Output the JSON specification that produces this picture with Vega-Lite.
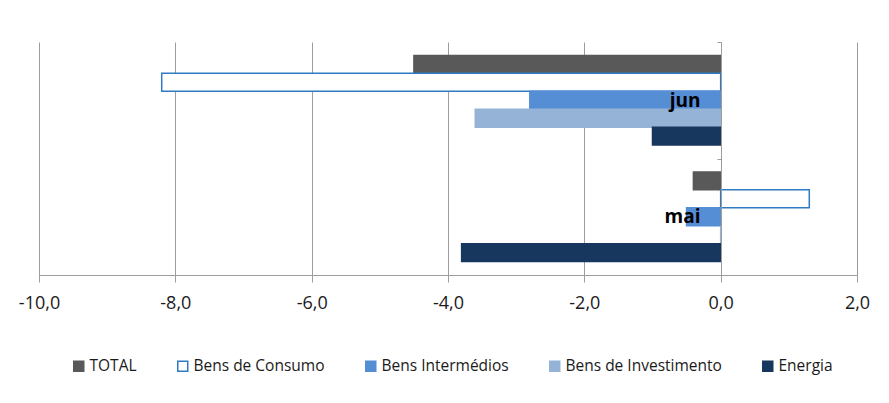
{
  "$schema": "https://vega.github.io/schema/vega-lite/v6.json",
  "width": 818,
  "height": 233,
  "autosize": {"type": "none"},
  "padding": {"left": 39, "top": 42, "right": 32, "bottom": 128},
  "background": "white",
  "config": {
    "view": {"stroke": null},
    "font": "Open Sans"
  },
  "data": {
    "values": [
      {"mes": "jun", "serie": "TOTAL", "valor": -4.5},
      {"mes": "jun", "serie": "Bens de Consumo", "valor": -8.2},
      {"mes": "jun", "serie": "Bens Intermédios", "valor": -2.8},
      {"mes": "jun", "serie": "Bens de Investimento", "valor": -3.6},
      {"mes": "jun", "serie": "Energia", "valor": -1.0},
      {"mes": "mai", "serie": "TOTAL", "valor": -0.4},
      {"mes": "mai", "serie": "Bens de Consumo", "valor": 1.3},
      {"mes": "mai", "serie": "Bens Intermédios", "valor": -0.5},
      {"mes": "mai", "serie": "Bens de Investimento", "valor": 0.0},
      {"mes": "mai", "serie": "Energia", "valor": -3.8}
    ]
  },
  "mark": {"type": "bar", "strokeWidth": 1.5},
  "encoding": {
    "y": {
      "field": "mes",
      "type": "nominal",
      "sort": ["jun", "mai"],
      "scale": {"domain": ["jun", "mai"], "paddingInner": 0, "paddingOuter": 0},
      "axis": {
        "title": null,
        "offset": -682,
        "zindex": 1,
        "tickBand": "extent",
        "domainColor": "#9d9d9d",
        "tickColor": "#9d9d9d",
        "tickSize": 4,
        "labelFontSize": 19,
        "labelFontWeight": "bold",
        "labelColor": "black",
        "labelPadding": 17,
        "labelAngle": 0
      }
    },
    "yOffset": {
      "field": "serie",
      "type": "nominal",
      "sort": ["TOTAL", "Bens de Consumo", "Bens Intermédios", "Bens de Investimento", "Energia"],
      "scale": {"paddingOuter": 0.75, "paddingInner": 0}
    },
    "x": {
      "field": "valor",
      "type": "quantitative",
      "scale": {"domain": [-10, 2], "nice": false, "zero": true},
      "axis": {
        "title": null,
        "values": [-10, -8, -6, -4, -2, 0, 2],
        "labelExpr": "replace(replace(format(datum.value, '.1f'), '.', ','), '\u2212', '-')",
        "grid": true,
        "gridColor": "#9d9d9d",
        "gridOpacity": 1,
        "domainColor": "#9d9d9d",
        "tickColor": "#9d9d9d",
        "tickSize": 7,
        "labelFontSize": 18,
        "labelColor": "#1a1a1a",
        "labelPadding": 12,
        "labelFlush": false
      }
    },
    "fill": {
      "field": "serie",
      "type": "nominal",
      "scale": {
        "domain": ["TOTAL", "Bens de Consumo", "Bens Intermédios", "Bens de Investimento", "Energia"],
        "range": ["#595959", "#ffffff", "#558ed5", "#95b3d7", "#17375e"]
      },
      "legend": {
        "title": null,
        "orient": "none",
        "legendX": 32,
        "legendY": 316,
        "direction": "horizontal",
        "symbolType": "square",
        "symbolSize": 100,
        "symbolStrokeWidth": 1.5,
        "labelFontSize": 15.5,
        "labelLimit": 300,
        "labelColor": "#1a1a1a",
        "labelOffset": 3,
        "columnPadding": 37
      }
    },
    "stroke": {
      "field": "serie",
      "type": "nominal",
      "scale": {
        "domain": ["TOTAL", "Bens de Consumo", "Bens Intermédios", "Bens de Investimento", "Energia"],
        "range": ["#595959", "#2e7bc4", "#558ed5", "#95b3d7", "#17375e"]
      },
      "legend": {
        "title": null,
        "orient": "none",
        "legendX": 32,
        "legendY": 316,
        "direction": "horizontal",
        "symbolType": "square",
        "symbolSize": 100,
        "symbolStrokeWidth": 1.5,
        "labelFontSize": 15.5,
        "labelLimit": 300,
        "labelColor": "#1a1a1a",
        "labelOffset": 3,
        "columnPadding": 37
      }
    }
  }
}
